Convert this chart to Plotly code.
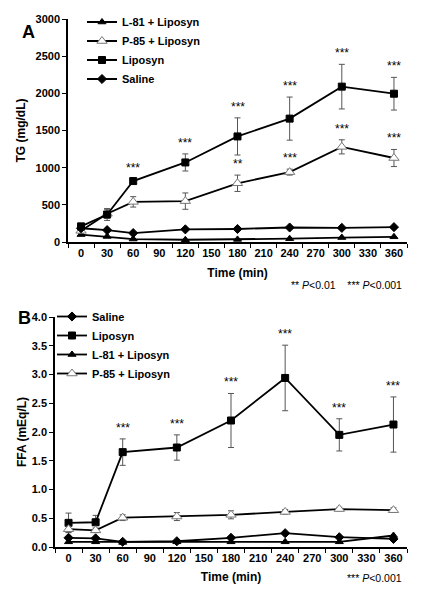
import plotly.graph_objects as go

# ---------------- data ----------------
time_min = [0, 30, 60, 120, 180, 240, 300, 360]
x_tick_labels = [0, 30, 60, 90, 120, 150, 180, 210, 240, 270, 300, 330, 360]

# Panel A: TG (mg/dL)
tg_l81 = [100, 75, 40, 30, 35, 45, 60, 70]
tg_p85 = [150, 380, 540, 550, 790, 940, 1280, 1130]
tg_p85_err = [30, 60, 70, 110, 110, 40, 95, 115]
tg_lipo = [210, 370, 820, 1070, 1420, 1660, 2090, 1995]
tg_lipo_err = [40, 80, 30, 115, 250, 290, 300, 220]
tg_saline = [185, 160, 120, 170, 175, 195, 190, 200]
tg_lipo_sig = ["", "", "***", "***", "***", "***", "***", "***"]
tg_p85_sig = ["", "", "", "", "**", "***", "***", "***"]

# Panel B: FFA (mEq/L)
ffa_saline = [0.16, 0.15, 0.09, 0.10, 0.16, 0.24, 0.17, 0.14]
ffa_lipo = [0.42, 0.43, 1.65, 1.73, 2.20, 2.94, 1.95, 2.13]
ffa_lipo_err = [0.17, 0.12, 0.23, 0.22, 0.47, 0.57, 0.28, 0.48]
ffa_l81 = [0.09, 0.09, 0.08, 0.09, 0.09, 0.09, 0.09, 0.20]
ffa_p85 = [0.31, 0.29, 0.51, 0.53, 0.56, 0.61, 0.66, 0.64]
ffa_p85_err = [0.05, 0.04, 0.05, 0.07, 0.07, 0.04, 0.03, 0.04]
ffa_lipo_sig = ["", "", "***", "***", "***", "***", "***", "***"]

FONT = "Liberation Sans, Arial, sans-serif"
BLACK = "#000000"
ERRC = "#555555"

fig = go.Figure()


def add(x, y, name, symbol, xa, ya, legend, err=None, fill=BLACK, size=7, mline=BLACK):
    fig.add_trace(go.Scatter(
        x=x, y=y, name=name, mode="lines+markers",
        xaxis=xa, yaxis=ya, legend=legend,
        line=dict(color=BLACK, width=1.8),
        marker=dict(symbol=symbol, size=size, color=fill,
                    line=dict(color=mline, width=1)),
        error_y=(dict(type="data", array=err, visible=True, color=ERRC,
                      thickness=1, width=3) if err is not None else None),
    ))


# Panel A traces (legend order: L-81, P-85, Liposyn, Saline)
add(time_min, tg_l81, "L-81 + Liposyn", "triangle-up", "x", "y", "legend")
add(time_min, tg_p85, "P-85 + Liposyn", "triangle-up", "x", "y", "legend",
    err=tg_p85_err, fill="white", size=9, mline="#777777")
add(time_min, tg_lipo, "Liposyn", "square", "x", "y", "legend", err=tg_lipo_err)
add(time_min, tg_saline, "Saline", "diamond", "x", "y", "legend", size=7)

# Panel B traces (legend order: Saline, Liposyn, L-81, P-85)
add(time_min, ffa_saline, "Saline", "diamond", "x2", "y2", "legend2", size=7)
add(time_min, ffa_lipo, "Liposyn", "square", "x2", "y2", "legend2", err=ffa_lipo_err)
add(time_min, ffa_l81, "L-81 + Liposyn", "triangle-up", "x2", "y2", "legend2")
add(time_min, ffa_p85, "P-85 + Liposyn", "triangle-up", "x2", "y2", "legend2",
    err=ffa_p85_err, fill="white", size=9, mline="#777777")

# significance asterisks
ann = []


def sig(xs, ys, errs, labels, xref, yref):
    for t, v, e, s in zip(xs, ys, errs, labels):
        if s:
            ann.append(dict(x=t, y=v + e, xref=xref, yref=yref, text=s,
                            showarrow=False, yshift=11,
                            font=dict(family=FONT, size=12, color=BLACK)))


sig(time_min, tg_lipo, tg_lipo_err, tg_lipo_sig, "x", "y")
sig(time_min, tg_p85, tg_p85_err, tg_p85_sig, "x", "y")
sig(time_min, ffa_lipo, ffa_lipo_err, ffa_lipo_sig, "x2", "y2")

ann += [
    dict(x=21 / 421, y=1 - 21 / 600, xref="paper", yref="paper", text="<b>A</b>",
         showarrow=False, borderpad=0, font=dict(family=FONT, size=18, color=BLACK)),
    dict(x=17 / 421, y=1 - 318 / 600, xref="paper", yref="paper", text="<b>B</b>",
         showarrow=False, borderpad=0, font=dict(family=FONT, size=18, color=BLACK)),
    dict(x=404 / 421, y=1 - 285 / 600, xref="paper", yref="paper", xanchor="right",
         text="** <i>P</i><0.01    *** <i>P</i><0.001",
         showarrow=False, font=dict(family=FONT, size=10.5, color=BLACK)),
    dict(x=404 / 421, y=1 - 586 / 600, xref="paper", yref="paper", xanchor="right",
         text="*** <i>P</i><0.001",
         showarrow=False, font=dict(family=FONT, size=10.5, color=BLACK)),
]

tickfont = dict(family=FONT, size=11, color=BLACK, weight="bold")
titlefont = dict(family=FONT, size=12, color=BLACK, weight="bold")

xcommon = dict(range=[-15, 375], tickvals=x_tick_labels, ticktext=[str(v) for v in x_tick_labels],
               ticks="", showline=True, linecolor=BLACK, linewidth=1.5,
               showgrid=False, zeroline=False, tickfont=tickfont, automargin=False,
               minor=dict(tick0=-15, dtick=30, ticks="outside", ticklen=4,
                          tickcolor=BLACK, tickwidth=1.2, showgrid=False))
ycommon = dict(ticks="outside", ticklen=4, tickcolor=BLACK, tickwidth=1.2,
               showline=True, linecolor=BLACK, linewidth=1.5, automargin=False,
               showgrid=False, zeroline=False, tickfont=tickfont)

fig.update_layout(
    width=421, height=600,
    margin=dict(l=0, r=0, t=0, b=0),
    paper_bgcolor="white", plot_bgcolor="white",
    font=dict(family=FONT, color=BLACK),
    xaxis=dict(domain=[68 / 421, 407 / 421], anchor="y",
               title=dict(text="Time (min)", font=titlefont, standoff=11), **xcommon),
    yaxis=dict(domain=[1 - 242 / 600, 1 - 19 / 600], anchor="x", range=[0, 3000], dtick=500,
               title=dict(text="TG (mg/dL)", font=titlefont, standoff=7), **ycommon),
    xaxis2=dict(domain=[55 / 421, 407 / 421], anchor="y2",
                title=dict(text="Time (min)", font=titlefont, standoff=10), **xcommon),
    yaxis2=dict(domain=[1 - 547 / 600, 1 - 317 / 600], anchor="x2", range=[0, 4], dtick=0.5,
                tickformat=".1f",
                title=dict(text="FFA (mEq/L)", font=titlefont, standoff=3), **ycommon),
    legend=dict(x=82 / 421, y=1 - 7.5 / 600, xanchor="left", yanchor="top",
                bgcolor="rgba(0,0,0,0)", itemwidth=30, tracegroupgap=0,
                font=dict(family=FONT, size=11, color=BLACK, weight="bold")),
    legend2=dict(x=52 / 421, y=1 - 302 / 600, xanchor="left", yanchor="top",
                 bgcolor="rgba(0,0,0,0)", itemwidth=30, tracegroupgap=0,
                 font=dict(family=FONT, size=11, color=BLACK, weight="bold")),
    annotations=ann,
    showlegend=True,
)

fig.write_html("out.html", config={"displayModeBar": False},
               post_script="document.body.style.margin='0';document.body.style.padding='0';")
